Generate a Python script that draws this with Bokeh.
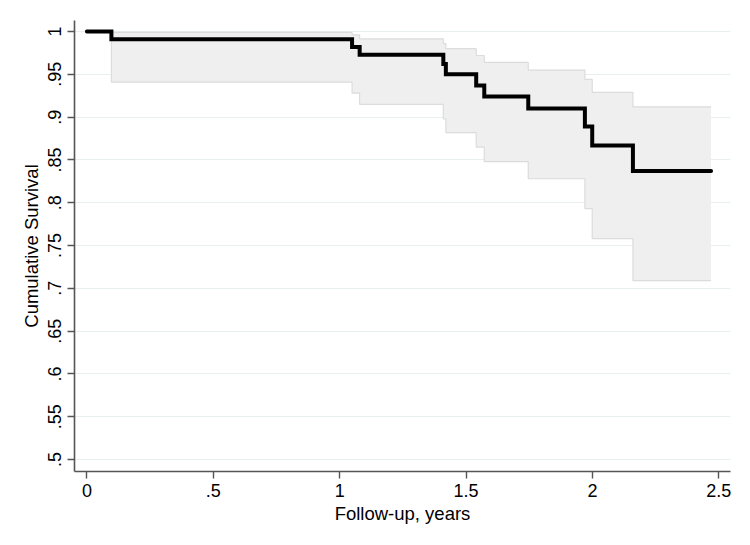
from bokeh.plotting import figure
from bokeh.models import Range1d, FixedTicker
from bokeh.embed import file_html
from bokeh.resources import INLINE

# Kaplan-Meier estimate (step "after" each event time)
times = [0.0, 0.097, 1.049, 1.079, 1.410, 1.420, 1.540, 1.572, 1.746, 1.970, 1.999, 2.160, 2.469]
survival = [1.0, 0.991, 0.982, 0.973, 0.962, 0.950, 0.937, 0.924, 0.910, 0.889, 0.867, 0.837, 0.837]
ci_lower = [1.0, 0.941, 0.928, 0.915, 0.898, 0.882, 0.865, 0.848, 0.828, 0.793, 0.758, 0.709, 0.709]
ci_upper = [1.0, 0.999, 0.996, 0.9915, 0.986, 0.980, 0.972, 0.964, 0.955, 0.944, 0.929, 0.912, 0.912]

x_ticks = [0, 0.5, 1, 1.5, 2, 2.5]
x_tick_labels = ["0", ".5", "1", "1.5", "2", "2.5"]
y_ticks = [0.5, 0.55, 0.6, 0.65, 0.7, 0.75, 0.8, 0.85, 0.9, 0.95, 1.0]
y_tick_labels = [".5", ".55", ".6", ".65", ".7", ".75", ".8", ".85", ".9", ".95", "1"]

FONT = "Liberation Sans"

p = figure(width=750, height=545, output_backend="svg", toolbar_location=None,
           x_range=Range1d(-0.049, 2.546), y_range=Range1d(0.486, 1.0129),
           min_border_left=74, min_border_right=20, min_border_top=20, min_border_bottom=74)

p.outline_line_color = None
p.background_fill_color = "white"
p.border_fill_color = "white"

# confidence band as a step area
bx, blo, bhi = [], [], []
for i in range(len(times) - 1):
    bx += [times[i], times[i + 1]]
    blo += [ci_lower[i], ci_lower[i]]
    bhi += [ci_upper[i], ci_upper[i]]
p.varea(x=bx, y1=blo, y2=bhi, fill_color="#efefef", fill_alpha=1.0)
p.step(times, ci_lower, mode="after", line_color="#dcdcdc", line_width=1.2)
p.step(times, ci_upper, mode="after", line_color="#dcdcdc", line_width=1.2)

# survival curve
p.step(times, survival, mode="after", line_color="black", line_width=4,
       line_join="miter", line_cap="round")

# axes
p.xaxis.ticker = FixedTicker(ticks=x_ticks)
p.xaxis.major_label_overrides = {t: l for t, l in zip(x_ticks, x_tick_labels)}
p.yaxis.ticker = FixedTicker(ticks=y_ticks)
p.yaxis.major_label_overrides = {t: l for t, l in zip(y_ticks, y_tick_labels)}
p.yaxis.major_label_orientation = "vertical"

for ax in (p.xaxis, p.yaxis):
    ax.axis_line_color = "#555555"
    ax.axis_line_width = 1.6
    ax.major_tick_line_color = "#555555"
    ax.major_tick_line_width = 1.4
    ax.major_tick_out = 7
    ax.major_tick_in = 0
    ax.minor_tick_line_color = None
    ax.major_label_text_font = FONT
    ax.major_label_text_font_size = "18px"
    ax.major_label_text_color = "black"
    ax.axis_label_text_font = FONT
    ax.axis_label_text_font_size = "18.5px"
    ax.axis_label_text_font_style = "normal"
    ax.axis_label_text_color = "black"

p.xaxis.major_label_standoff = 5
p.yaxis.major_label_standoff = 6
p.xaxis.axis_label = "Follow-up, years"
p.xaxis.axis_label_standoff = 3
p.yaxis.axis_label = "Cumulative Survival"
p.yaxis.axis_label_standoff = 4

p.xgrid.grid_line_color = None
p.ygrid.grid_line_color = "#e8eff1"
p.ygrid.grid_line_width = 1.2

open("out.html", "w").write(file_html(p, INLINE))
